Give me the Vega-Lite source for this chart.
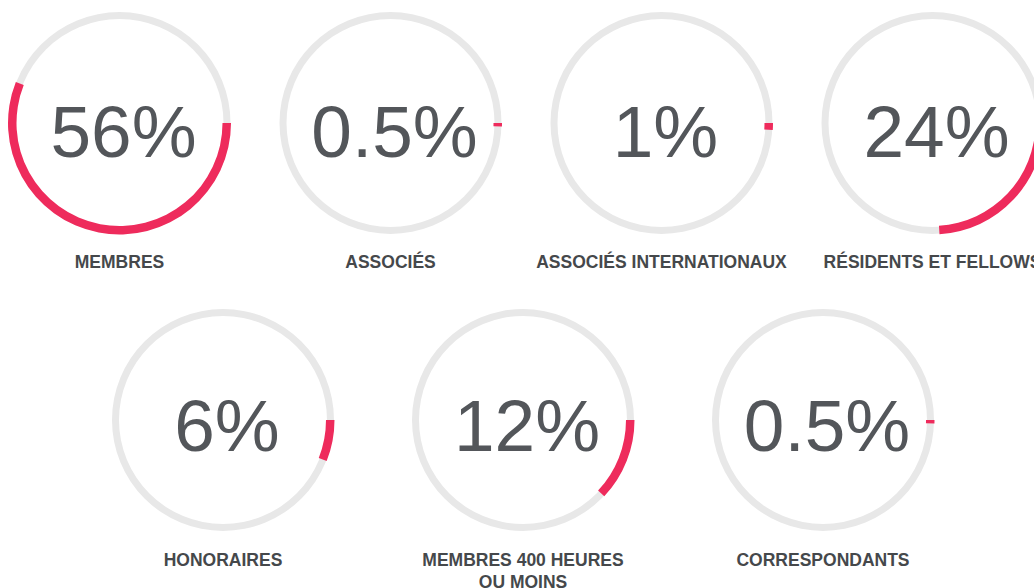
{
  "$schema": "https://vega.github.io/schema/vega-lite/v6.json",
  "padding": 0,
  "background": "white",
  "spacing": 0,
  "bounds": "flush",
  "config": {"view": {"stroke": null}, "font": "Liberation Sans"},
  "data": {"values": [
    {"cat": "MEMBRES", "label": "MEMBRES", "share": 0.56},
    {"cat": "ASSOCIÉS", "label": "ASSOCIÉS", "share": 0.005},
    {"cat": "ASSOCIÉS INTERNATIONAUX", "label": "ASSOCIÉS INTERNATIONAUX", "share": 0.01},
    {"cat": "RÉSIDENTS ET FELLOWS", "label": "RÉSIDENTS ET FELLOWS", "share": 0.24},
    {"cat": "HONORAIRES", "label": "HONORAIRES", "share": 0.06},
    {"cat": "MEMBRES 400 HEURES OU MOINS", "label": "MEMBRES 400 HEURES\nOU MOINS", "share": 0.12},
    {"cat": "CORRESPONDANTS", "label": "CORRESPONDANTS", "share": 0.005}
  ]},
  "vconcat": [
    {
      "width": 1052,
      "height": 246,
      "transform": [{"filter": {"field": "cat", "oneOf": ["MEMBRES", "ASSOCIÉS", "ASSOCIÉS INTERNATIONAUX", "RÉSIDENTS ET FELLOWS"]}}],
      "encoding": {
        "x": {"field": "cat", "type": "nominal", "sort": ["MEMBRES", "ASSOCIÉS", "ASSOCIÉS INTERNATIONAUX", "RÉSIDENTS ET FELLOWS"], "scale": {"type": "point", "padding": 0.441}, "axis": null}
      },
      "layer": [
        {"mark": {"type": "arc", "theta": 0, "theta2": 6.2832, "innerRadius": 104, "outerRadius": 111, "color": "#e8e8e8"}},
        {"mark": {"type": "arc", "innerRadius": 103, "outerRadius": 111.5, "color": "#ee2b5c"},
         "encoding": {
           "theta": {"field": "share", "type": "quantitative", "stack": null, "scale": {"domain": [0, 1], "range": [1.5708, 7.854]}},
           "theta2": {"datum": 0}
         }},
        {"mark": {"type": "text", "fontSize": 73, "color": "#53565a", "baseline": "alphabetic", "dy": 34, "dx": 4},
         "encoding": {"text": {"field": "share", "type": "quantitative", "format": "~%"}}},
        {"mark": {"type": "text", "fontSize": 17.5, "fontWeight": "bold", "color": "#45484b", "baseline": "alphabetic", "dy": 145, "lineBreak": "\n", "lineHeight": 22},
         "encoding": {"text": {"field": "label", "type": "nominal"}}}
      ]
    },
    {
      "width": 1046,
      "height": 348,
      "transform": [{"filter": {"field": "cat", "oneOf": ["HONORAIRES", "MEMBRES 400 HEURES OU MOINS", "CORRESPONDANTS"]}}],
      "encoding": {
        "x": {"field": "cat", "type": "nominal", "sort": ["HONORAIRES", "MEMBRES 400 HEURES OU MOINS", "CORRESPONDANTS"], "scale": {"type": "point", "padding": 0.7433}, "axis": null}
      },
      "layer": [
        {"mark": {"type": "arc", "theta": 0, "theta2": 6.2832, "innerRadius": 104, "outerRadius": 111, "color": "#e8e8e8"}},
        {"mark": {"type": "arc", "innerRadius": 103, "outerRadius": 111.5, "color": "#ee2b5c"},
         "encoding": {
           "theta": {"field": "share", "type": "quantitative", "stack": null, "scale": {"domain": [0, 1], "range": [1.5708, 7.854]}},
           "theta2": {"datum": 0}
         }},
        {"mark": {"type": "text", "fontSize": 73, "color": "#53565a", "baseline": "alphabetic", "dy": 31, "dx": 4},
         "encoding": {"text": {"field": "share", "type": "quantitative", "format": "~%"}}},
        {"mark": {"type": "text", "fontSize": 17.5, "fontWeight": "bold", "color": "#45484b", "baseline": "alphabetic", "dy": 146, "lineBreak": "\n", "lineHeight": 22},
         "encoding": {"text": {"field": "label", "type": "nominal"}}}
      ]
    }
  ]
}
